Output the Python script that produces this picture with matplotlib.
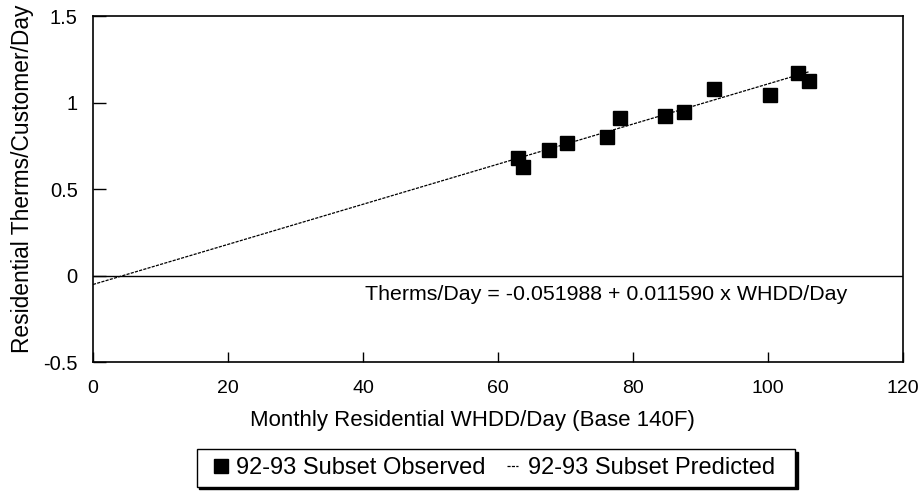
import numpy as np
import matplotlib
matplotlib.use("Agg")
import matplotlib.pyplot as plt
from matplotlib.lines import Line2D
from matplotlib.legend_handler import HandlerLine2D

plt.rcParams['font.family'] = ['Liberation Sans', 'DejaVu Sans']

# observed points
obs_x = [63.0, 63.7, 67.6, 70.2, 76.1, 78.1, 84.7, 87.5, 92.0, 100.3, 104.5, 106.0]
obs_y = [0.677, 0.629, 0.725, 0.768, 0.802, 0.912, 0.924, 0.943, 1.078, 1.043, 1.172, 1.126]

# predicted line endpoints
pred_x = [0.0, 106.0]
pred_y = [-0.052, 1.177]

eq_text = "Therms/Day = -0.051988 + 0.011590 x WHDD/Day"
xticks = [0, 20, 40, 60, 80, 100, 120]
yticks = [-0.5, 0, 0.5, 1, 1.5]
yticklabels = ["-0.5", "0", "0.5", "1", "1.5"]

fig = plt.figure(figsize=(9.22, 4.94), dpi=100)
ax = fig.add_axes([93 / 922, 1 - 362 / 494, 810 / 922, 346 / 494])

# trailing spaces give the legend box its extra right padding
ax.plot(pred_x, pred_y, color='black', lw=0.9, ls=(0, (2.5, 1)),
        label='92-93 Subset Predicted  ', zorder=2)
ax.plot(obs_x, obs_y, ls='none', marker='s', ms=10.5, color='black',
        label='92-93 Subset Observed', zorder=3)
ax.axhline(0, color='black', lw=1.0, zorder=1)

ax.text(40.3, -0.11, eq_text, fontsize=15.4, va='center', ha='left')

ax.set_xlim(0, 120)
ax.set_ylim(-0.5, 1.5)
ax.set_xticks(xticks)
ax.set_yticks(yticks)
ax.set_yticklabels(yticklabels)
ax.tick_params(direction='in', width=1.0, colors='black')
ax.tick_params(axis='y', length=9, pad=11, labelsize=14.5)
ax.tick_params(axis='x', length=7, pad=13, labelsize=14)
for s in ax.spines.values():
    s.set_linewidth(1.2)

ax.set_xlabel("Monthly Residential WHDD/Day (Base 140F)", fontsize=16, va='center')
ax.xaxis.set_label_coords(0.468, -0.168)
ax.set_ylabel("Residential Therms/Customer/Day", fontsize=16.4, va='center')
ax.yaxis.set_label_coords(-0.087, 0.528)

h, l = ax.get_legend_handles_labels()
leg = fig.legend(h[::-1], l[::-1], loc='center', bbox_to_anchor=(496 / 922, 1 - 468 / 494),
                 ncol=2, fontsize=17, frameon=True, fancybox=False,
                 edgecolor='black', shadow={'color': 'black', 'alpha': 1},
                 handlelength=0.93, handletextpad=0.4, columnspacing=0.47,
                 markerscale=0.9, borderpad=0.32,
                 handler_map={Line2D: HandlerLine2D(xpad=0.47)})
leg.get_frame().set_linewidth(1.0)

fig.savefig("out.png", dpi=100)
